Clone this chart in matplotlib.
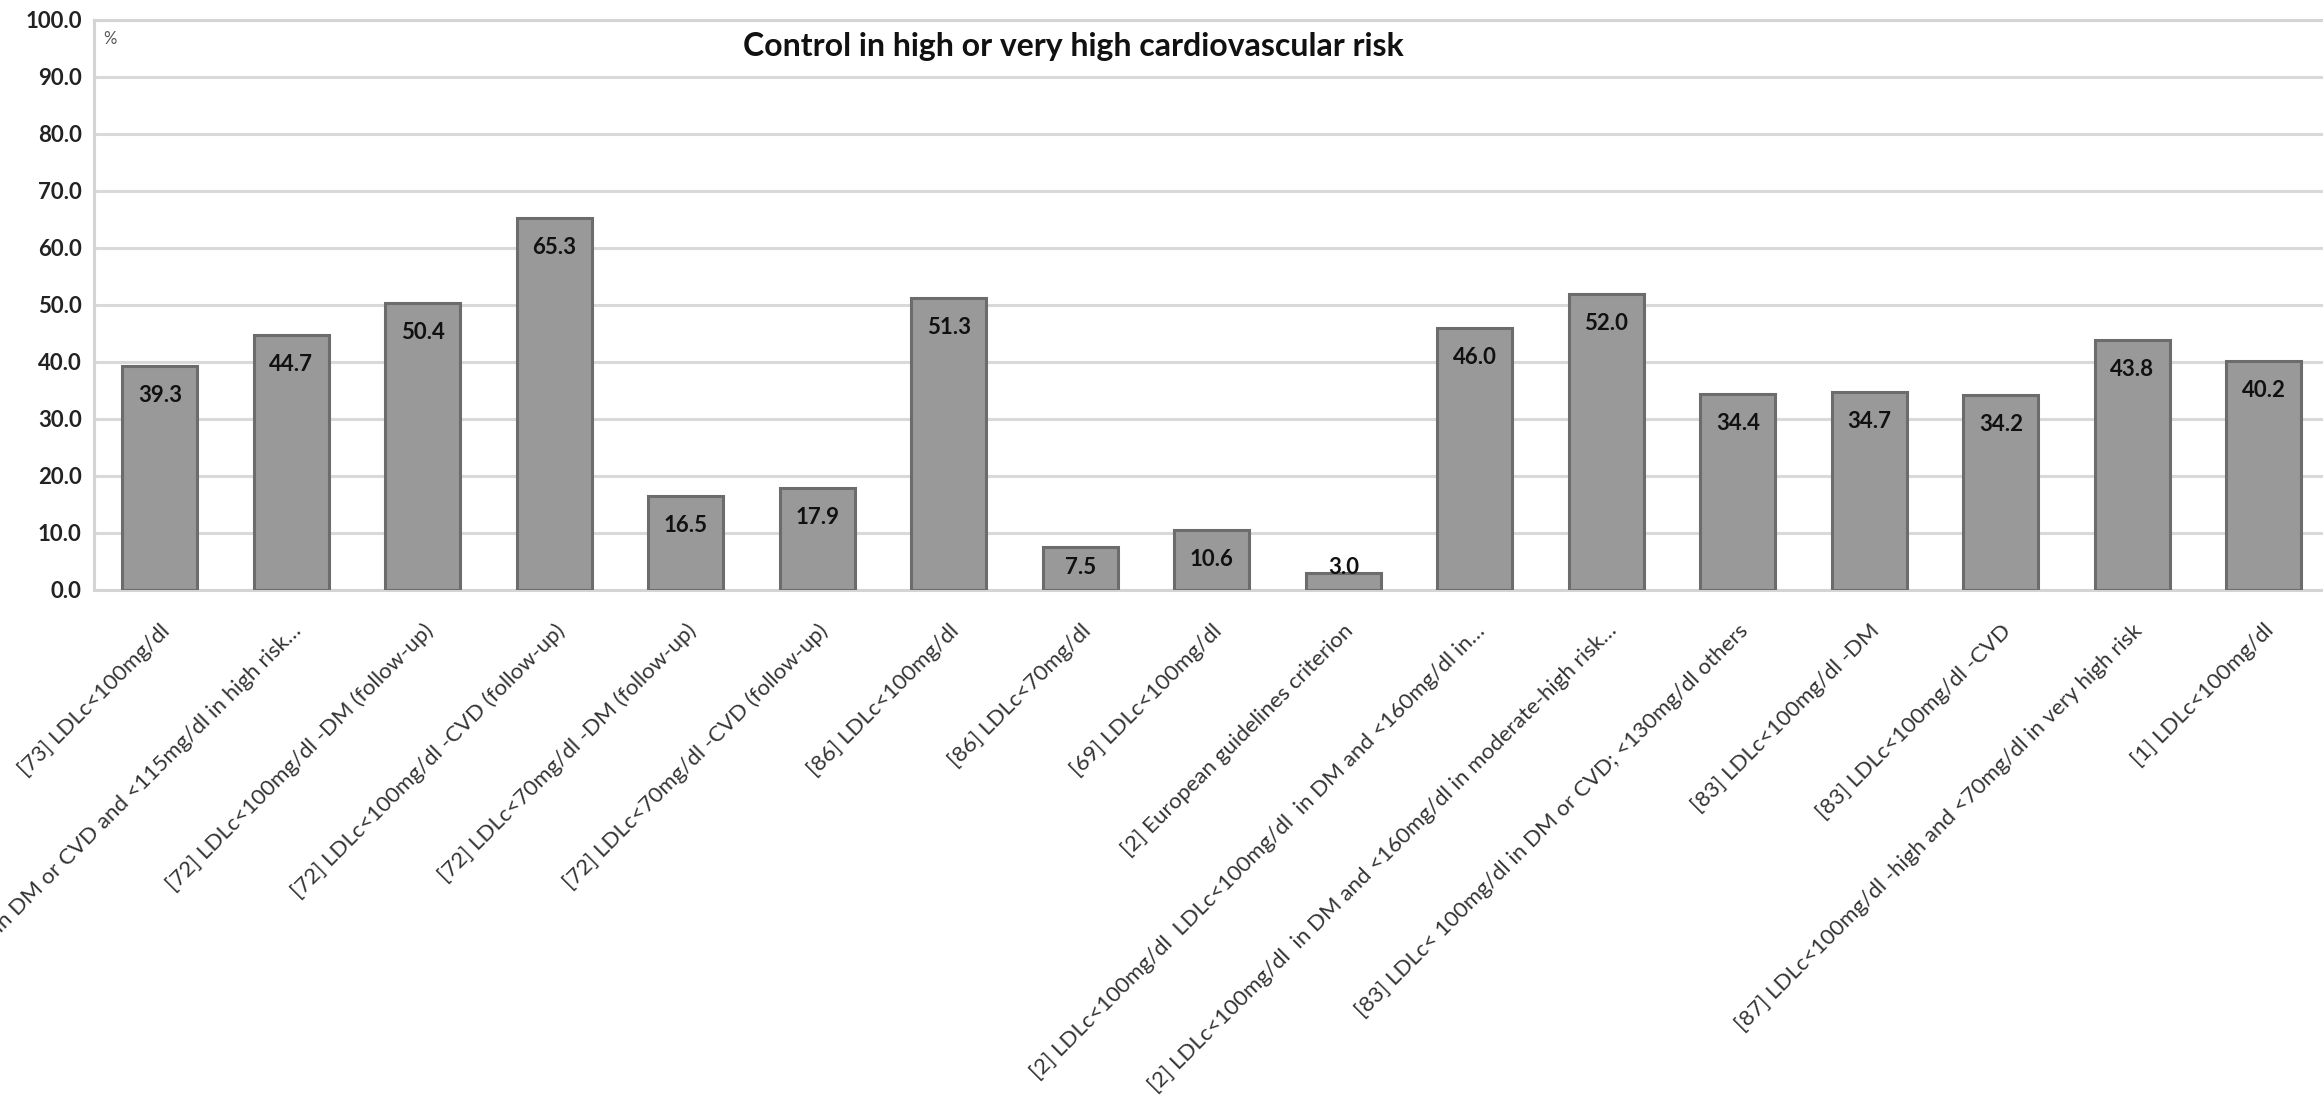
import matplotlib
matplotlib.use("Agg")
import matplotlib.pyplot as plt
import numpy as np

plt.rcParams['font.family'] = ['Lato', 'DejaVu Sans']

categories = [
    "[73] LDLc<100mg/dl",
    "[71] LDLc<100mg/dl in DM or CVD and <115mg/dl in high risk…",
    "[72] LDLc<100mg/dl -DM (follow-up)",
    "[72] LDLc<100mg/dl -CVD (follow-up)",
    "[72] LDLc<70mg/dl -DM (follow-up)",
    "[72] LDLc<70mg/dl -CVD (follow-up)",
    "[86] LDLc<100mg/dl",
    "[86] LDLc<70mg/dl",
    "[69] LDLc<100mg/dl",
    "[2] European guidelines criterion",
    "[2] LDLc<100mg/dl  LDLc<100mg/dl  in DM and <160mg/dl in…",
    "[2] LDLc<100mg/dl  in DM and <160mg/dl in moderate-high risk…",
    "[83] LDLc< 100mg/dl in DM or CVD; <130mg/dl others",
    "[83] LDLc<100mg/dl -DM",
    "[83] LDLc<100mg/dl -CVD",
    "[87] LDLc<100mg/dl -high and <70mg/dl in very high risk",
    "[1] LDLc<100mg/dl",
]
control_pct = [39.3, 44.7, 50.4, 65.3, 16.5, 17.9, 51.3, 7.5, 10.6, 3.0,
               46.0, 52.0, 34.4, 34.7, 34.2, 43.8, 40.2]
y_ticks = [0, 10, 20, 30, 40, 50, 60, 70, 80, 90, 100]

fig = plt.figure(figsize=(23.23, 10.98), dpi=100)
ax = fig.add_axes([0.0405, 0.4627, 0.9623, 0.5191])

x = np.arange(len(categories))
ax.bar(x, control_pct, width=0.57, color='#999999', edgecolor='#6c6c6c',
       linewidth=2.2, zorder=3)

# value labels sit just under the bar top, never below ~4
for xi, v in zip(x, control_pct):
    ax.text(xi, max(v - 5.2, 4.0), f"{v:.1f}", ha='center', va='center',
            fontsize=16, fontweight='bold', color='#111111', zorder=4)

ax.set_xlim(-0.5, len(categories) - 0.5)
ax.set_ylim(0, 100)
ax.set_yticks(y_ticks)
ax.set_yticklabels([f"{t:.1f}" for t in y_ticks], fontsize=16,
                   fontweight='bold', color='#222222')
ax.yaxis.grid(True, color='#d9d9d9', linewidth=2.2, zorder=0)
ax.tick_params(axis='y', length=0, pad=9)
ax.tick_params(axis='x', length=0, pad=22)

ax.set_xticks(x)
ax.set_xticklabels(categories, rotation=45, ha='right',
                   rotation_mode='anchor', fontsize=16, color='#333333')

for side in ['left', 'bottom', 'top', 'right']:
    ax.spines[side].set_color('#d4d4d4')
    ax.spines[side].set_linewidth(2.2)

ax.text(0.004, 0.98, "%", transform=ax.transAxes, fontsize=12,
        color='#555555', va='top', ha='left')
ax.text(0.438, 0.953, "Control in high or very high cardiovascular risk",
        transform=ax.transAxes, fontsize=23, fontweight='bold',
        color='#111111', ha='center', va='center')

fig.savefig("out.png", dpi=100)
